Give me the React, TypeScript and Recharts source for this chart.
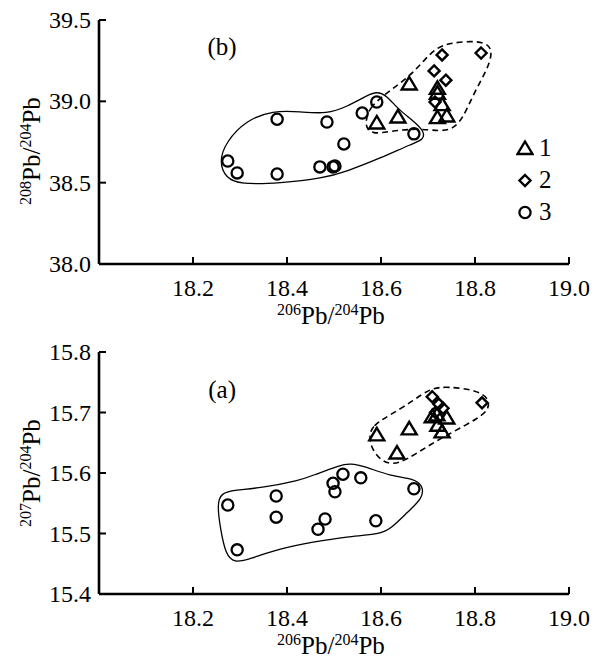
import React from 'react';
import { ScatterChart, Scatter, XAxis, YAxis, ReferenceDot, Legend } from 'recharts';

const FONT = 'Liberation Serif';

// ---------- ticks ----------
const xTicks = [18.2, 18.4, 18.6, 18.8, 19.0];
const yTicks208 = [38.0, 38.5, 39.0, 39.5];
const yTicks207 = [15.4, 15.5, 15.6, 15.7, 15.8];

// ---------- panel (b): 208Pb/204Pb vs 206Pb/204Pb ----------
const tri208 = [
  { x: 18.591, y: 38.867 }, { x: 18.636, y: 38.904 }, { x: 18.66, y: 39.107 },
  { x: 18.72, y: 39.08 }, { x: 18.72, y: 39.05 }, { x: 18.73, y: 38.98 },
  { x: 18.72, y: 38.9 }, { x: 18.74, y: 38.91 },
];
const dia208 = [
  { x: 18.73, y: 39.285 }, { x: 18.813, y: 39.297 }, { x: 18.713, y: 39.187 },
  { x: 18.738, y: 39.13 }, { x: 18.715, y: 38.996 },
];
const cir208 = [
  { x: 18.274, y: 38.633 }, { x: 18.294, y: 38.56 }, { x: 18.379, y: 38.89 },
  { x: 18.379, y: 38.553 }, { x: 18.485, y: 38.873 }, { x: 18.521, y: 38.738 },
  { x: 18.47, y: 38.597 }, { x: 18.498, y: 38.597 }, { x: 18.502, y: 38.603 },
  { x: 18.56, y: 38.928 }, { x: 18.591, y: 38.996 }, { x: 18.67, y: 38.8 },
];
const solid208 = [
  { x: 18.2552, y: 38.627 }, { x: 18.2703, y: 38.752 }, { x: 18.3129, y: 38.883 },
  { x: 18.3702, y: 38.944 }, { x: 18.4277, y: 38.936 }, { x: 18.4851, y: 38.922 },
  { x: 18.5277, y: 38.967 }, { x: 18.5702, y: 39.037 }, { x: 18.5915, y: 39.061 },
  { x: 18.6126, y: 39.035 }, { x: 18.636, y: 38.952 }, { x: 18.6701, y: 38.878 },
  { x: 18.6924, y: 38.814 }, { x: 18.6902, y: 38.763 }, { x: 18.6681, y: 38.742 },
  { x: 18.5979, y: 38.65 }, { x: 18.5277, y: 38.57 }, { x: 18.4766, y: 38.527 },
  { x: 18.3851, y: 38.496 }, { x: 18.3, y: 38.49 }, { x: 18.2703, y: 38.527 },
];
const dashed208 = [
  { x: 18.5682, y: 38.885 }, { x: 18.5746, y: 38.955 }, { x: 18.6043, y: 39.035 },
  { x: 18.6255, y: 39.078 }, { x: 18.6617, y: 39.158 }, { x: 18.6894, y: 39.244 },
  { x: 18.7191, y: 39.336 }, { x: 18.7532, y: 39.361 }, { x: 18.8043, y: 39.373 },
  { x: 18.8318, y: 39.346 }, { x: 18.836, y: 39.285 }, { x: 18.8254, y: 39.193 },
  { x: 18.7977, y: 39.051 }, { x: 18.7743, y: 38.894 }, { x: 18.7521, y: 38.828 },
  { x: 18.7255, y: 38.816 }, { x: 18.6766, y: 38.834 }, { x: 18.6191, y: 38.816 },
  { x: 18.581, y: 38.797 }, { x: 18.5682, y: 38.842 },
];

// ---------- panel (a): 207Pb/204Pb vs 206Pb/204Pb ----------
const tri207 = [
  { x: 18.591, y: 15.663 }, { x: 18.66, y: 15.673 }, { x: 18.634, y: 15.633 },
  { x: 18.709, y: 15.693 }, { x: 18.719, y: 15.696 }, { x: 18.74, y: 15.691 },
  { x: 18.721, y: 15.679 }, { x: 18.73, y: 15.668 },
];
const dia207 = [
  { x: 18.709, y: 15.726 }, { x: 18.723, y: 15.714 }, { x: 18.732, y: 15.707 },
  { x: 18.815, y: 15.716 }, { x: 18.716, y: 15.7 },
];
const cir207 = [
  { x: 18.274, y: 15.547 }, { x: 18.377, y: 15.562 }, { x: 18.377, y: 15.527 },
  { x: 18.294, y: 15.473 }, { x: 18.519, y: 15.598 }, { x: 18.498, y: 15.583 },
  { x: 18.502, y: 15.569 }, { x: 18.557, y: 15.592 }, { x: 18.67, y: 15.574 },
  { x: 18.481, y: 15.524 }, { x: 18.466, y: 15.507 }, { x: 18.589, y: 15.521 },
];
const solid207 = [
  { x: 18.2512, y: 15.548 }, { x: 18.2597, y: 15.567 }, { x: 18.2894, y: 15.572 },
  { x: 18.3426, y: 15.575 }, { x: 18.4277, y: 15.588 }, { x: 18.4553, y: 15.596 },
  { x: 18.5128, y: 15.613 }, { x: 18.534, y: 15.616 }, { x: 18.566, y: 15.611 },
  { x: 18.6191, y: 15.595 }, { x: 18.6701, y: 15.591 }, { x: 18.6902, y: 15.578 },
  { x: 18.6881, y: 15.558 }, { x: 18.6573, y: 15.536 }, { x: 18.6211, y: 15.508 },
  { x: 18.5979, y: 15.499 }, { x: 18.5277, y: 15.495 }, { x: 18.4553, y: 15.486 },
  { x: 18.3851, y: 15.475 }, { x: 18.3213, y: 15.458 }, { x: 18.2874, y: 15.451 },
  { x: 18.2693, y: 15.466 }, { x: 18.2587, y: 15.506 },
];
const dashed207 = [
  { x: 18.5746, y: 15.66 }, { x: 18.581, y: 15.678 }, { x: 18.6191, y: 15.696 },
  { x: 18.6681, y: 15.719 }, { x: 18.7043, y: 15.74 }, { x: 18.7404, y: 15.743 },
  { x: 18.8043, y: 15.737 }, { x: 18.8297, y: 15.723 }, { x: 18.8297, y: 15.705 },
  { x: 18.8063, y: 15.69 }, { x: 18.7532, y: 15.668 }, { x: 18.7043, y: 15.647 },
  { x: 18.6553, y: 15.622 }, { x: 18.6255, y: 15.614 }, { x: 18.6023, y: 15.619 },
  { x: 18.581, y: 15.638 },
];

const legendLabels = ['1', '2', '3'];

// ---------- marker shapes ----------
const Tri = (p: any) => {
  const { cx, cy } = p;
  return (
    <path
      d={`M${cx},${cy - 7} L${cx + 7.5},${cy + 5.5} L${cx - 7.5},${cy + 5.5} Z`}
      fill="none" stroke="#000" strokeWidth={2.4}
    />
  );
};
const Dia = (p: any) => {
  const { cx, cy } = p;
  const r = 5.5;
  return (
    <path
      d={`M${cx},${cy - r} L${cx + r},${cy} L${cx},${cy + r} L${cx - r},${cy} Z`}
      fill="none" stroke="#000" strokeWidth={2.4}
    />
  );
};
const Cir = (p: any) => {
  const { cx, cy } = p;
  return <circle cx={cx} cy={cy} r={5.6} fill="none" stroke="#000" strokeWidth={2.3} />;
};
const Empty = () => <g />;

const XTick = (p: any) => {
  const { x, y, payload } = p;
  return (
    <text x={x} y={y + 17} textAnchor="middle" fontFamily={FONT} fontSize={24} fill="#000">
      {Number(payload.value).toFixed(1)}
    </text>
  );
};
const YTick = (p: any) => {
  const { x, y, payload } = p;
  return (
    <text x={x} y={y + 8} textAnchor="end" fontFamily={FONT} fontSize={24} fill="#000">
      {Number(payload.value).toFixed(1)}
    </text>
  );
};

const XTitle = (props: any) => {
  const vb = props.viewBox || { x: 0, y: 0, width: 0 };
  const x = vb.x + vb.width / 2 - 3;
  const y = vb.y + 60;
  return (
    <text x={x} y={y} textAnchor="middle" fontFamily={FONT} fontSize={25} fill="#000">
      <tspan fontSize={16} dy={-9} fill="#000">206</tspan>
      <tspan dy={9} fill="#000">Pb/</tspan>
      <tspan fontSize={16} dy={-9} fill="#000">204</tspan>
      <tspan dy={9} fill="#000">Pb</tspan>
    </text>
  );
};

const makeYTitle = (sup: string, shift: number) => (props: any) => {
  const vb = props.viewBox || { x: 0, y: 0, height: 0 };
  const x = 40;
  const y = vb.y + vb.height / 2 + shift;
  return (
    <text x={x} y={y} transform={`rotate(-90, ${x}, ${y})`} textAnchor="middle"
      fontFamily={FONT} fontSize={25} fill="#000">
      <tspan fontSize={16} dy={-9} fill="#000">{sup}</tspan>
      <tspan dy={9} fill="#000">Pb/</tspan>
      <tspan fontSize={16} dy={-9} fill="#000">204</tspan>
      <tspan dy={9} fill="#000">Pb</tspan>
    </text>
  );
};

const LegendBox = () => {
  const shapes = [Tri, Dia, Cir];
  return (
    <div style={{ fontFamily: FONT, fontSize: 25, color: '#000', lineHeight: '32px' }}>
      {legendLabels.map((lab, i) => {
        const S = shapes[i];
        return (
          <div key={lab} style={{ display: 'flex', alignItems: 'center', height: 32 }}>
            <svg width={18} height={18} style={{ marginRight: 5 }}>
              <S cx={9} cy={9.5} />
            </svg>
            <span>{lab}</span>
          </div>
        );
      })}
    </div>
  );
};

const axisLine = { stroke: '#000', strokeWidth: 2.6 };
const tickLine = { stroke: '#000', strokeWidth: 2 };

const envLine = { stroke: '#000', strokeWidth: 1.3, fill: 'none' };
const envDash = { stroke: '#000', strokeWidth: 1.6, fill: 'none', strokeDasharray: '6 4' };

export default function App() {
  return (
    <div style={{ position: 'absolute', left: 0, top: 0, width: 598, height: 659, background: '#fff', fontFamily: FONT }}>
      <div style={{ position: 'absolute', left: 0, top: 0 }}>
        <ScatterChart width={598} height={330} margin={{ top: 20, right: 29, bottom: 36, left: 39 }}>
          <XAxis type="number" dataKey="x" domain={[18, 19]} ticks={xTicks} interval={0}
            allowDataOverflow height={30} tickSize={-7} tickMargin={22}
            axisLine={axisLine} tickLine={tickLine} tick={<XTick />}
            label={<XTitle />} />
          <YAxis type="number" dataKey="y" domain={[38, 39.5]} ticks={yTicks208} interval={0}
            allowDataOverflow width={60} tickSize={-7} tickMargin={15}
            axisLine={axisLine} tickLine={tickLine} tick={<YTick />}
            label={{ content: makeYTitle('208', 9) } as any} />
          <Scatter data={solid208} line={envLine} lineType="joint" lineJointType="basisClosed"
            shape={Empty} isAnimationActive={false} legendType="none" />
          <Scatter data={dashed208} line={envDash} lineType="joint" lineJointType="basisClosed"
            shape={Empty} isAnimationActive={false} legendType="none" />
          <Scatter data={cir208} shape={Cir} isAnimationActive={false} name="3" />
          <Scatter data={dia208} shape={Dia} isAnimationActive={false} name="2" />
          <Scatter data={tri208} shape={Tri} isAnimationActive={false} name="1" />
          <ReferenceDot x={18.262} y={39.34} r={0} stroke="none" fill="none"
            label={{ value: '(b)', position: 'center', fill: '#000', fontSize: 25, fontFamily: FONT }} />
          <Legend layout="vertical" align="center" verticalAlign="middle" content={<LegendBox />}
            wrapperStyle={{ position: 'absolute', left: 516, top: 132, width: 60, height: 100 }} />
        </ScatterChart>
      </div>
      <div style={{ position: 'absolute', left: 0, top: 330 }}>
        <ScatterChart width={598} height={329} margin={{ top: 22, right: 29, bottom: 35, left: 39 }}>
          <XAxis type="number" dataKey="x" domain={[18, 19]} ticks={xTicks} interval={0}
            allowDataOverflow height={30} tickSize={-7} tickMargin={22}
            axisLine={axisLine} tickLine={tickLine} tick={<XTick />}
            label={<XTitle />} />
          <YAxis type="number" dataKey="y" domain={[15.4, 15.8]} ticks={yTicks207} interval={0}
            allowDataOverflow width={60} tickSize={-7} tickMargin={15}
            axisLine={axisLine} tickLine={tickLine} tick={<YTick />}
            label={{ content: makeYTitle('207', 0) } as any} />
          <Scatter data={solid207} line={envLine} lineType="joint" lineJointType="basisClosed"
            shape={Empty} isAnimationActive={false} legendType="none" />
          <Scatter data={dashed207} line={envDash} lineType="joint" lineJointType="basisClosed"
            shape={Empty} isAnimationActive={false} legendType="none" />
          <Scatter data={cir207} shape={Cir} isAnimationActive={false} />
          <Scatter data={dia207} shape={Dia} isAnimationActive={false} />
          <Scatter data={tri207} shape={Tri} isAnimationActive={false} />
          <ReferenceDot x={18.262} y={15.739} r={0} stroke="none" fill="none"
            label={{ value: '(a)', position: 'center', fill: '#000', fontSize: 25, fontFamily: FONT }} />
        </ScatterChart>
      </div>
    </div>
  );
}
